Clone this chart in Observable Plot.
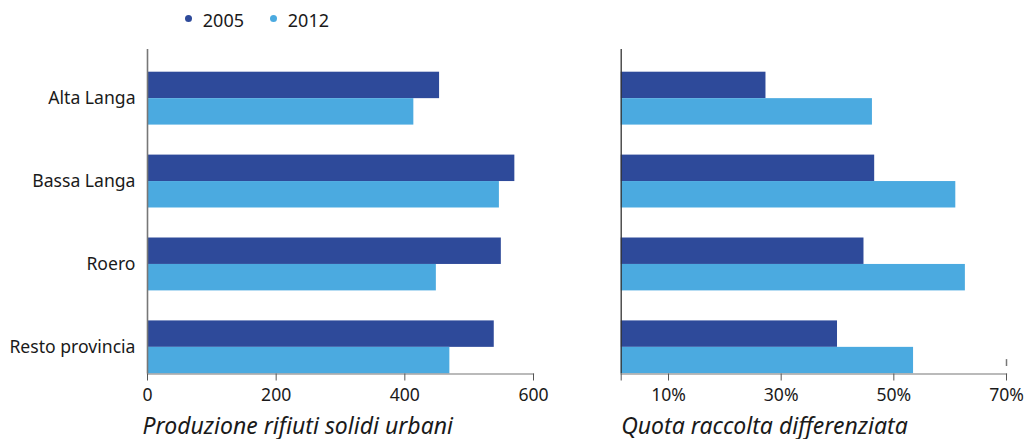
<!DOCTYPE html>
<html>
<head>
<meta charset="utf-8">
<script src="https://cdn.jsdelivr.net/npm/d3@7"></script>
<script src="https://cdn.jsdelivr.net/npm/@observablehq/plot@0.6"></script>
<style>
  html, body { margin: 0; padding: 0; background: #fff; }
  body { font-family: "Noto Sans", sans-serif; color: #1a1a1a; width: 1025px; height: 439px; overflow: hidden; }
  #legend { position: relative; height: 40px; }
  .item { position: absolute; top: 0; height: 40px; display: flex; align-items: center; font-size: 18px; }
  .dot { width: 7px; height: 7px; border-radius: 50%; margin-right: 11px; margin-top: -3px; }
  #charts { display: flex; flex-direction: row; }
  svg { display: block; overflow: visible; }
</style>
</head>
<body>
<div id="legend"></div>
<div id="charts"></div>
<script>
// ---- data ----
const regions = ["Alta Langa", "Bassa Langa", "Roero", "Resto provincia"];
const years = ["2005", "2012"];
const yearColors = ["#2e4a9a", "#4baae0"];
const rsu2005 = [454, 571, 550, 539];
const rsu2012 = [414, 547, 449, 470];
const rd2005 = [27.3, 46.6, 44.7, 40.0];
const rd2012 = [46.2, 61.0, 62.7, 53.5];
const rsuTicks = [0, 200, 400, 600];
const rdTicks = [10, 30, 50, 70];
const rsuTitle = "Produzione rifiuti solidi urbani";
const rdTitle = "Quota raccolta differenziata";

const table = regions.map((r, i) => ({
  region: r, rsu2005: rsu2005[i], rsu2012: rsu2012[i], rd2005: rd2005[i], rd2012: rd2012[i]
}));

// ---- layout ----
const H = 399;
const yRange = [31.7, 333.3];
const padIn = 0.362;
const step = (yRange[1] - yRange[0]) / (regions.length - padIn);
const half = step * (1 - padIn) / 2;
const rdMin = 1.6;

// legend
const legend = document.getElementById("legend");
const legendX = [184.8, 269.8];
years.forEach((y, i) => {
  const it = document.createElement("div");
  it.className = "item";
  it.style.left = legendX[i] + "px";
  it.innerHTML = `<span class="dot" style="background:${yearColors[i]}"></span><span>${y}</span>`;
  legend.appendChild(it);
});

const font = {fontFamily: "Noto Sans", fontSize: "17.6px", color: "#1a1a1a", background: "transparent"};

const left = Plot.plot({
  width: 590, height: H,
  marginLeft: 147, marginRight: 57, marginTop: 9, marginBottom: 65.5,
  style: font,
  x: {domain: [0, 600], label: null},
  y: {domain: regions, range: yRange, paddingInner: padIn, paddingOuter: 0, round: false, label: null},
  marks: [
    Plot.barX(table, {x: "rsu2005", y: "region", fill: yearColors[0], insetBottom: half}),
    Plot.barX(table, {x: "rsu2012", y: "region", fill: yearColors[1], insetTop: half}),
    Plot.ruleX([0], {stroke: "#777", strokeWidth: 1.6}),
    Plot.frame({anchor: "bottom", stroke: "#777", strokeWidth: 1.2}),
    Plot.axisX({ticks: rsuTicks, tickSize: 7, tickPadding: 7, stroke: "#555", label: null}),
    Plot.axisY({tickSize: 0, tickPadding: 12, label: null}),
    Plot.text([rsuTitle], {frameAnchor: "bottom-left", textAnchor: "start", lineAnchor: "middle",
      dy: 52.5, dx: -5, fontSize: 23, fontStyle: "italic"})
  ]
});

const right = Plot.plot({
  width: 435, height: H,
  marginLeft: 30.7, marginRight: 19, marginTop: 9, marginBottom: 65.5,
  style: font,
  x: {domain: [rdMin, 70], label: null},
  y: {domain: regions, range: yRange, paddingInner: padIn, paddingOuter: 0, round: false, label: null, axis: null},
  marks: [
    Plot.barX(table, {x: "rd2005", y: "region", fill: yearColors[0], insetBottom: half, clip: true}),
    Plot.barX(table, {x: "rd2012", y: "region", fill: yearColors[1], insetTop: half, clip: true}),
    Plot.ruleX([rdMin], {stroke: "#333", strokeWidth: 1.3}),
    Plot.frame({anchor: "bottom", stroke: "#777", strokeWidth: 1.2}),
    Plot.axisX({ticks: [rdMin, ...rdTicks], tickFormat: d => d === rdMin ? "" : d + "%",
      tickSize: 7, tickPadding: 7, stroke: "#555", label: null}),
    Plot.tickX([regions[3]], {x: () => 70, y: d => d, stroke: "#777", strokeWidth: 1.5, insetTop: 38.7, insetBottom: 7.3}),
    Plot.text([rdTitle], {frameAnchor: "bottom-left", textAnchor: "start", lineAnchor: "middle",
      dy: 52.5, dx: 0, fontSize: 23, fontStyle: "italic"})
  ]
});

const charts = document.getElementById("charts");
charts.appendChild(left);
charts.appendChild(right);
</script>
</body>
</html>
